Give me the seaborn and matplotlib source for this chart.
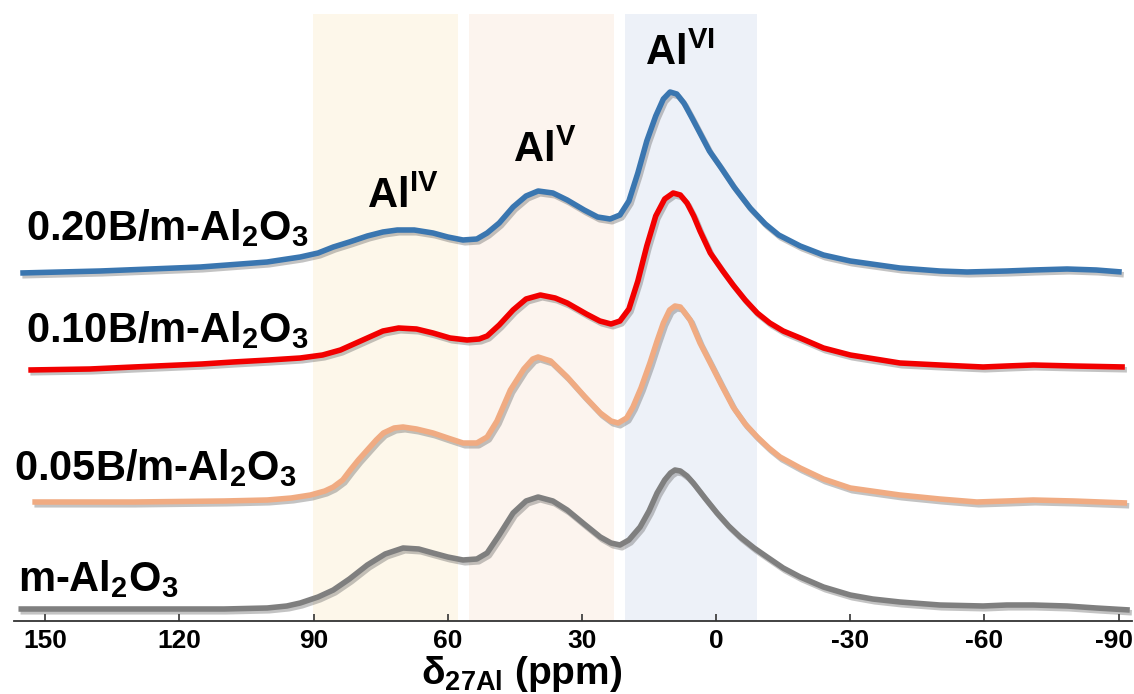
import pandas as pd
import seaborn as sns
import matplotlib.pyplot as plt
import matplotlib.patheffects as pe
from matplotlib.transforms import ScaledTranslation

# 27Al NMR spectra, stacked with vertical offsets (chemical shift in ppm)
samples = ["0.20B/m-Al$_2$O$_3$", "0.10B/m-Al$_2$O$_3$", "0.05B/m-Al$_2$O$_3$", "m-Al$_2$O$_3$"]
colors = ["#3a76b0", "#f20000", "#f0ab82", "#7f7f7f"]

ppm_020 = [155.6, 137.7, 115.3, 100.4, 93.0, 89.0, 85.6, 82.0, 78.0, 74.5, 71.3, 67.5, 63.3,
           60.0, 56.6, 53.5, 51.2, 48.5, 45.4, 42.5, 39.8, 36.5, 33.3, 29.5, 26.5, 23.7, 21.5,
           19.5, 17.5, 15.5, 13.5, 11.8, 10.3, 8.8, 7.2, 5.5, 3.5, 1.5, -1.0, -4.0, -7.6,
           -11.0, -14.0, -18.8, -24.0, -30.0, -41.1, -50.0, -56.1, -65.0, -70.9, -78.5,
           -85.0, -90.7]
int_020 = [348, 350, 354, 359, 364, 368, 374, 379, 385, 389, 391, 391, 388,
           384, 381, 382, 388, 398, 414, 425, 430, 428, 421, 411, 404, 402, 406,
           420, 448, 480, 505, 522, 529, 527, 518, 504, 487, 470, 454, 434, 413,
           397, 386, 375, 366, 360, 353, 350, 349, 350, 351, 352,
           351, 349]

ppm_010 = [153.8, 140.0, 130.3, 115.0, 108.0, 100.0, 93.0, 88.0, 84.0, 81.0, 78.0, 74.5,
           71.0, 67.0, 63.3, 59.5, 55.7, 53.0, 51.2, 48.5, 45.4, 42.5, 39.3, 36.0, 33.3,
           29.0, 26.0, 23.5, 21.5, 19.5, 17.5, 15.5, 13.5, 11.5, 9.6, 8.0, 6.5, 5.0, 3.6,
           1.3, -1.5, -3.8, -6.5, -9.2, -12.0, -15.0, -18.8, -24.0, -30.0, -41.1, -50.0,
           -59.7, -65.0, -70.9, -80.0, -91.4]
int_010 = [251, 252, 254, 257, 259, 261, 263, 266, 271, 277, 283, 290,
           293, 292, 288, 283, 281, 282, 285, 296, 311, 322, 326, 323, 318,
           307, 300, 297, 300, 312, 340, 375, 405, 422, 428, 426, 418, 405, 390,
           368, 350, 336, 321, 308, 298, 290, 283, 273, 266, 258, 256,
           254, 255, 256, 255, 254]

ppm_005 = [152.9, 130.3, 110.0, 100.4, 95.0, 90.7, 87.5, 85.6, 83.5, 81.8, 80.0, 78.0, 76.0,
           74.4, 72.0, 70.0, 67.0, 63.3, 60.0, 56.6, 53.5, 51.2, 49.0, 46.0, 43.0, 41.0,
           39.8, 37.0, 33.3, 29.5, 25.9, 23.5, 21.9, 20.0, 18.6, 16.8, 14.8, 13.2, 11.8,
           10.4, 9.2, 8.0, 6.8, 5.8, 3.6, 1.3, -1.2, -3.8, -6.5, -9.2, -11.8, -14.3,
           -18.8, -24.0, -30.0, -41.1, -50.0, -58.3, -65.0, -70.9, -80.0, -91.9]
int_005 = [119, 119, 120, 121, 123, 126, 130, 134, 141, 151, 161, 171, 181,
           188, 193, 194, 192, 188, 183, 178, 178, 184, 200, 231, 252, 262,
           264, 260, 244, 225, 208, 200, 198, 203, 214, 233, 258, 280, 298,
           311, 315, 314, 307, 301, 278, 258, 236, 214, 197, 184, 173, 164,
           153, 142, 133, 126, 122, 119, 120, 121, 120, 118]

ppm_000 = [156.0, 130.0, 110.0, 100.4, 96.0, 93.0, 89.0, 85.6, 82.0, 78.0, 74.0, 70.0, 66.5,
           63.3, 60.0, 56.6, 53.5, 51.2, 48.5, 45.4, 42.5, 39.8, 36.5, 33.3, 29.5, 25.9,
           23.5, 21.5, 19.5, 17.0, 15.0, 13.2, 11.5, 10.2, 9.2, 8.0, 6.5, 5.1, 2.5, -0.2,
           -2.8, -5.4, -8.5, -11.4, -15.0, -18.8, -24.0, -30.0, -35.0, -41.1, -50.0,
           -59.7, -65.0, -70.9, -78.5, -85.0, -92.5]
int_000 = [12, 12, 12, 13, 15, 18, 24, 31, 42, 56, 67, 73, 72,
           68, 64, 61, 62, 68, 86, 108, 120, 124, 120, 111, 97, 84,
           78, 76, 81, 94, 110, 128, 141, 148, 151, 150, 145, 138, 123, 108,
           95, 84, 73, 64, 53, 44, 34, 26, 22, 19, 16,
           15, 16, 16, 15, 13, 11]

# coordination regions (ppm)
bands = [(90.2, 57.7, "#fdf7ea"), (55.3, 22.8, "#fcf4ee"), (20.4, -9.2, "#edf1f8")]
band_labels = ["Al$^{IV}$", "Al$^{V}$", "Al$^{VI}$"]
band_label_pos = [(78.0, 413), (45.4, 459), (15.9, 556)]
sample_label_pos = [(154.4, 381), (154.4, 279), (156.9, 141), (156.2, 30)]
xticks = [150, 120, 90, 60, 30, 0, -30, -60, -90]

frames = []
for name, x, y in zip(samples, [ppm_020, ppm_010, ppm_005, ppm_000],
                      [int_020, int_010, int_005, int_000]):
    frames.append(pd.DataFrame({"ppm": x, "intensity": y, "sample": name}))
df = pd.concat(frames, ignore_index=True)

sns.set_theme(style="white")
plt.rcParams["font.family"] = ["Liberation Sans", "DejaVu Sans"]
plt.rcParams["font.weight"] = "bold"
plt.rcParams["text.color"] = "black"
plt.rcParams["axes.labelcolor"] = "black"
plt.rcParams["xtick.color"] = "black"
plt.rcParams["axes.unicode_minus"] = False
plt.rcParams["mathtext.fontset"] = "custom"
plt.rcParams["mathtext.rm"] = "Liberation Sans:bold"
plt.rcParams["mathtext.it"] = "Liberation Sans:bold"
plt.rcParams["mathtext.bf"] = "Liberation Sans:bold"
plt.rcParams["mathtext.default"] = "bf"

fig = plt.figure(figsize=(11.34, 6.94), dpi=100)
ax = fig.add_axes([14 / 1134, 73 / 694, 1118 / 1134, 621 / 694])

for lo, hi, c in bands:
    ax.axvspan(hi, lo, ymin=0, ymax=0.9775, color=c, lw=0, zorder=0)

sns.lineplot(data=df, x="ppm", y="intensity", hue="sample", palette=colors,
             sort=False, estimator=None, linewidth=4.0, legend=False, ax=ax)
for line in ax.lines:
    line.set_solid_capstyle("butt")
    line.set_solid_joinstyle("round")
    line.set_path_effects([pe.SimpleLineShadow(offset=(1.5, -2), shadow_color="#555555", alpha=0.35),
                           pe.Normal()])

for name, (x, y) in zip(samples, sample_label_pos):
    ax.text(x, y, name, fontsize=30, fontweight="bold", ha="left", va="baseline")
for name, (x, y) in zip(band_labels, band_label_pos):
    ax.text(x, y, name, fontsize=30, fontweight="bold", ha="left", va="baseline")

ax.set_xlim(157, -93)
ax.set_ylim(0, 621)
ax.set_xticks(xticks)
ax.set_yticks([])
for s in ["top", "left", "right"]:
    ax.spines[s].set_visible(False)
ax.spines["bottom"].set_color("#333333")
ax.spines["bottom"].set_linewidth(1.3)
ax.tick_params(axis="x", direction="in", length=5, width=1.2, color="#333333",
               labelcolor="black", labelsize=19, pad=6, bottom=True)
for t in ax.get_xticklabels():
    t.set_fontweight("bold")
# keep the last label inside the figure edge
last = ax.get_xticklabels()[-1]
last.set_transform(last.get_transform() + ScaledTranslation(-5 / 100, 0, fig.dpi_scale_trans))

ax.set_xlabel("δ$_{27Al}$ (ppm)", fontsize=28, fontweight="bold")
ax.xaxis.set_label_coords(0.454, -0.053)
ax.set_ylabel("")

fig.savefig("out.png", dpi=100)
